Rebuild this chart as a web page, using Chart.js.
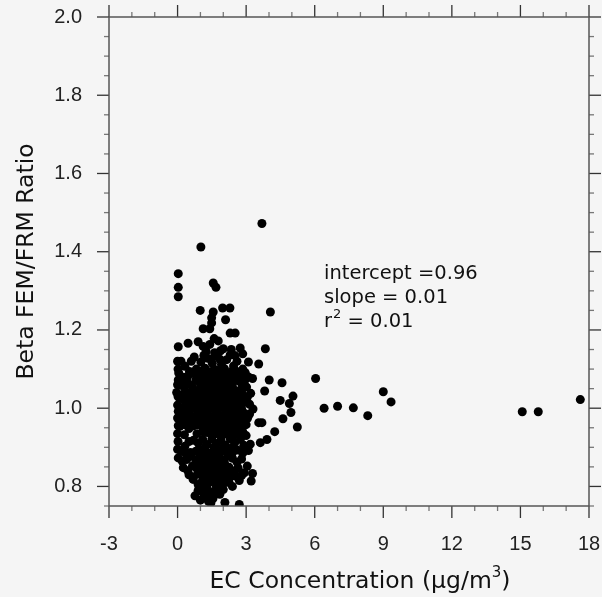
<!DOCTYPE html>
<html>
<head>
<meta charset="utf-8">
<script src="https://cdn.jsdelivr.net/npm/chart.js@4.4.0/dist/chart.umd.min.js"></script>
<style>
  html, body { margin: 0; padding: 0; background: #f5f5f5; }
  canvas { display: block; }
</style>
</head>
<body>
<canvas id="chart" width="602" height="597"></canvas>
<script>
// tick labels
const xTickLabels = [-3, 0, 3, 6, 9, 12, 15, 18];
const yTickLabels = [0.8, 1.0, 1.2, 1.4, 1.6, 1.8, 2.0];

// sparse points above the main cluster
const upperPoints = [
  [3.69, 1.472], [1.02, 1.412], [0.03, 1.344], [0.03, 1.309], [0.03, 1.285],
  [1.56, 1.32], [1.68, 1.309], [4.06, 1.246], [0.99, 1.25], [1.56, 1.246],
  [1.97, 1.256], [2.29, 1.256], [1.49, 1.231], [1.49, 1.218], [2.1, 1.226],
  [1.12, 1.203], [1.41, 1.203], [2.3, 1.192], [2.52, 1.192]
];

// dense cluster, EC 0-3
const clusterPoints = [
  [1.6, 1.178], [1.78, 1.172], [0.9, 1.17], [0.46, 1.166], [1.12, 1.158], [1.41, 1.163], [2.0, 1.152],
  [0.03, 1.157], [2.74, 1.154], [2.85, 1.139], [1.25, 1.145], [1.62, 1.142], [1.88, 1.147], [2.35, 1.15],
  [0.73, 1.131], [1.3, 1.128], [1.7, 1.133], [2.15, 1.124], [2.3, 1.136], [1.02, 1.118], [1.52, 1.115],
  [1.92, 1.112], [2.6, 1.12], [2.45, 1.108], [3.1, 1.118],
  [0.32, 1.107], [0.82, 1.1], [1.2, 1.102], [1.66, 1.098], [2.05, 1.101], [0.05, 1.09], [0.52, 1.094],
  [1.1, 1.088], [1.37, 1.093], [1.76, 1.086], [2.2, 1.09], [2.7, 1.084], [0.26, 1.079], [0.92, 1.078],
  [1.55, 1.081], [1.96, 1.077], [2.38, 1.08], [2.55, 1.095], [3.1, 1.08],
  [0.03, 1.072], [0.42, 1.068], [0.8, 1.073], [1.21, 1.066], [1.6, 1.071], [2.02, 1.069], [2.42, 1.072],
  [0.62, 1.058], [1.0, 1.06], [1.41, 1.057], [1.81, 1.062], [2.21, 1.058], [2.82, 1.06], [0.3, 1.052],
  [0.66, 1.048], [1.02, 1.05], [1.46, 1.046], [1.86, 1.052], [2.26, 1.048], [2.62, 1.044], [3.02, 1.054],
  [-0.04, 1.04], [0.46, 1.038], [0.86, 1.041], [1.26, 1.037], [1.66, 1.04], [2.06, 1.036], [2.46, 1.039],
  [0.1, 1.025], [0.55, 1.03], [0.92, 1.027], [1.32, 1.033], [1.71, 1.029], [2.1, 1.031], [2.5, 1.025],
  [2.87, 1.034], [0.32, 1.018], [0.72, 1.02], [1.12, 1.017], [1.52, 1.021], [1.92, 1.018], [2.32, 1.02],
  [2.66, 1.022], [3.2, 1.038],
  [0.0, 1.008], [0.36, 1.011], [0.76, 1.008], [1.16, 1.013], [1.56, 1.009], [1.96, 1.011], [2.36, 1.007],
  [2.76, 1.013], [3.15, 1.01], [0.2, 0.999], [0.6, 1.0], [1.0, 0.998], [1.4, 1.001], [1.8, 0.999],
  [2.2, 1.0], [2.6, 0.997], [0.03, 0.992], [0.5, 0.99], [0.9, 0.993], [1.3, 0.988], [1.7, 0.991],
  [2.1, 0.989], [2.5, 0.994], [2.92, 0.987], [3.3, 0.998],
  [0.3, 0.981], [0.7, 0.979], [1.1, 0.982], [1.5, 0.978], [1.9, 0.981], [2.3, 0.978], [2.7, 0.98],
  [0.2, 0.972], [0.66, 0.969], [1.06, 0.971], [1.46, 0.967], [1.86, 0.973], [2.26, 0.969], [2.66, 0.967],
  [3.06, 0.974], [0.46, 0.96], [0.86, 0.958], [1.26, 0.961], [1.66, 0.959], [2.06, 0.962], [2.46, 0.958],
  [3.0, 0.958],
  [0.1, 0.954], [0.5, 0.948], [1.25, 0.952], [1.65, 0.948], [2.05, 0.95], [2.45, 0.946], [2.74, 0.946],
  [1.1, 0.94], [1.5, 0.942], [1.9, 0.939], [2.3, 0.941], [2.7, 0.936], [0.3, 0.932], [1.52, 0.931],
  [1.92, 0.929], [2.32, 0.933], [3.0, 0.93],
  [0.32, 0.903], [0.7, 0.918], [0.9, 0.911], [1.3, 0.907], [1.7, 0.91], [2.1, 0.905], [2.5, 0.912],
  [1.1, 0.92], [1.5, 0.921], [1.9, 0.918], [2.3, 0.922], [2.75, 0.92], [0.15, 0.89], [0.56, 0.887],
  [1.0, 0.892], [1.4, 0.885], [1.8, 0.89], [2.2, 0.887], [2.62, 0.893], [3.1, 0.892],
  [0.03, 0.873], [0.4, 0.869], [0.8, 0.867], [1.2, 0.872], [1.6, 0.869], [2.0, 0.867], [2.4, 0.872],
  [2.8, 0.87], [0.6, 0.878], [1.0, 0.879], [1.4, 0.877], [1.8, 0.879], [2.2, 0.877], [0.25, 0.848],
  [0.65, 0.852], [1.05, 0.85], [1.45, 0.848], [1.85, 0.852], [2.25, 0.849], [2.65, 0.847], [1.25, 0.86],
  [1.65, 0.858], [2.05, 0.861], [0.85, 0.859], [3.05, 0.852],
  [0.5, 0.83], [0.9, 0.832], [1.3, 0.828], [1.7, 0.83], [2.1, 0.833], [2.5, 0.827], [2.92, 0.835],
  [1.1, 0.84], [1.5, 0.841], [1.9, 0.838], [2.3, 0.84], [0.68, 0.818], [1.05, 0.81], [1.45, 0.812],
  [1.85, 0.808], [2.25, 0.811], [2.7, 0.815], [1.25, 0.82], [1.65, 0.819], [2.05, 0.821],
  [0.9, 0.79], [1.3, 0.795], [1.62, 0.788], [2.0, 0.792], [1.12, 0.8], [1.8, 0.801], [0.76, 0.776],
  [1.22, 0.774], [1.55, 0.769], [1.6, 0.783], [1.46, 0.758], [2.07, 0.759], [2.7, 0.754]
];

// second layer of the cluster, filling its gaps
const clusterFill = [
  [0.0, 1.12], [0.02, 1.1], [0.0, 1.06], [0.02, 1.03], [0.0, 0.975], [0.03, 0.955], [0.0, 0.935],
  [0.02, 0.915], [0.0, 0.895],
  [0.15, 1.12], [0.6, 1.12], [1.15, 1.135], [1.45, 1.125], [1.85, 1.125], [2.5, 1.135], [0.7, 1.09],
  [0.95, 1.095], [1.55, 1.095], [1.9, 1.095], [2.4, 1.095], [2.85, 1.1], [0.15, 1.06], [0.45, 1.082],
  [1.1, 1.075], [1.4, 1.078], [1.8, 1.072], [2.2, 1.075], [2.65, 1.07], [2.95, 1.072], [0.8, 1.045],
  [1.2, 1.052], [1.6, 1.055], [2.0, 1.05], [2.4, 1.055], [2.8, 1.045], [0.25, 1.035], [0.65, 1.035],
  [1.05, 1.035], [1.45, 1.03], [1.85, 1.035], [2.25, 1.03], [2.65, 1.035], [3.05, 1.028], [0.5, 1.015],
  [0.9, 1.012], [1.3, 1.02], [1.7, 1.015], [2.1, 1.018], [2.5, 1.012], [2.95, 1.015], [0.4, 0.997],
  [0.8, 1.0], [1.2, 1.0], [1.6, 0.997], [2.0, 1.003], [2.4, 0.998], [2.8, 0.999], [3.15, 0.985],
  [0.1, 0.98], [0.5, 0.975], [0.9, 0.977], [1.3, 0.975], [1.7, 0.978], [2.1, 0.975], [2.5, 0.977],
  [2.9, 0.972], [0.3, 0.958], [0.7, 0.955], [1.05, 0.955], [1.45, 0.955], [1.85, 0.958], [2.25, 0.955],
  [2.65, 0.955], [0.85, 0.935], [1.3, 0.938], [1.7, 0.935], [2.1, 0.935], [2.5, 0.932], [2.85, 0.94],
  [0.5, 0.915], [1.2, 0.9], [1.6, 0.9], [2.0, 0.9], [2.4, 0.9], [2.9, 0.905], [0.35, 0.885],
  [0.8, 0.89], [1.2, 0.886], [1.6, 0.884], [2.0, 0.89], [2.4, 0.886], [2.85, 0.885], [0.2, 0.865],
  [1.0, 0.865], [1.4, 0.862], [1.8, 0.865], [2.6, 0.862], [0.45, 0.84], [0.85, 0.845], [1.3, 0.842],
  [1.7, 0.845], [2.1, 0.845], [2.5, 0.84], [2.8, 0.828], [0.7, 0.825], [1.1, 0.825], [1.5, 0.828],
  [1.9, 0.825], [2.3, 0.825], [0.9, 0.805], [1.3, 0.808], [1.7, 0.8], [2.1, 0.81], [2.4, 0.8],
  [1.1, 0.785], [1.4, 0.785], [1.85, 0.78], [1.0, 0.765], [1.35, 0.762]
];

// fringe to the right of the cluster, EC 3-6
const fringePoints = [
  [3.84, 1.152], [3.55, 1.113], [3.28, 1.076], [2.96, 1.091], [4.01, 1.072], [4.57, 1.065], [6.04, 1.076],
  [3.81, 1.044], [5.05, 1.031], [4.49, 1.02], [4.89, 1.012], [4.96, 0.989], [4.61, 0.973], [3.55, 0.963],
  [3.69, 0.963], [5.24, 0.952], [4.25, 0.94], [3.91, 0.92], [3.62, 0.912], [3.18, 0.908], [3.28, 0.833],
  [3.22, 0.814]
];

// isolated high-EC points
const farPoints = [
  [6.41, 1.0], [7.0, 1.005], [7.69, 1.001], [8.32, 0.981], [9.0, 1.042], [9.34, 1.016],
  [15.08, 0.991], [15.78, 0.991], [17.62, 1.022]
];

const allPoints = [...upperPoints, ...clusterPoints, ...clusterFill, ...fringePoints, ...farPoints];

// frame, tick marks and text drawn on top of the chart
const decorations = {
  id: 'decorations',
  afterDraw(chart) {
    const { ctx, chartArea: a, scales: { x, y } } = chart;
    ctx.save();

    function line(x1, y1, x2, y2, color, w) {
      ctx.beginPath();
      ctx.strokeStyle = color;
      ctx.lineWidth = w;
      ctx.moveTo(x1, y1);
      ctx.lineTo(x2, y2);
      ctx.stroke();
    }

    for (let v = -3; v <= 18; v++) {
      const px = x.getPixelForValue(v);
      const major = xTickLabels.includes(v);
      const len = major ? 12 : 5;
      const col = major ? '#333' : '#777';
      line(px, a.bottom, px, a.bottom + len, col, 1.3);
      line(px, a.top, px, a.top - len, col, 1.3);
    }
    for (let i = 0; i <= 25; i++) {
      const v = 0.75 + i * 0.05;
      const py = y.getPixelForValue(v);
      const major = i % 4 === 1;
      const len = major ? 12 : 5;
      const col = major ? '#333' : '#777';
      line(a.left, py, a.left - len, py, col, 1.3);
      line(a.right, py, a.right + len, py, col, 1.3);
    }

    ctx.strokeStyle = '#555';
    ctx.lineWidth = 1.5;
    ctx.strokeRect(a.left, a.top, a.right - a.left, a.bottom - a.top);

    // regression stats
    ctx.fillStyle = '#111';
    ctx.textAlign = 'left';
    ctx.textBaseline = 'alphabetic';
    ctx.font = '19.5px "DejaVu Sans"';
    ctx.fillText('intercept =0.96', 324, 279);
    ctx.fillText('slope = 0.01', 324, 303);
    ctx.fillText('r', 324, 327);
    let rx = 324 + ctx.measureText('r').width;
    ctx.font = '13px "DejaVu Sans"';
    ctx.fillText('2', rx + 1, 318);
    rx += ctx.measureText('2').width + 1;
    ctx.font = '19.5px "DejaVu Sans"';
    ctx.fillText(' = 0.01', rx, 327);

    // x axis title
    const main = 'EC Concentration (\u00b5g/m';
    ctx.font = '23.5px "DejaVu Sans"';
    const wMain = ctx.measureText(main).width;
    const wTail = ctx.measureText(')').width;
    ctx.font = '15px "DejaVu Sans"';
    const wSup = ctx.measureText('3').width;
    let tx = 360 - (wMain + wSup + wTail) / 2;
    ctx.font = '23.5px "DejaVu Sans"';
    ctx.fillText(main, tx, 588);
    tx += wMain;
    ctx.font = '15px "DejaVu Sans"';
    ctx.fillText('3', tx, 577);
    tx += wSup;
    ctx.font = '23.5px "DejaVu Sans"';
    ctx.fillText(')', tx, 588);

    // y axis title
    ctx.translate(33, (a.top + a.bottom) / 2);
    ctx.rotate(-Math.PI / 2);
    ctx.textAlign = 'center';
    ctx.fillText('Beta FEM/FRM Ratio', 0, 0);

    ctx.restore();
  }
};

// keep the plot area fixed: no extra padding for overhanging tick labels
function fixPadding(s) {
  s.paddingTop = 0;
  s.paddingBottom = 0;
  s.paddingLeft = 0;
  s.paddingRight = 0;
}

const ctx = document.getElementById('chart').getContext('2d');
new Chart(ctx, {
  type: 'scatter',
  data: {
    datasets: [{
      data: allPoints.map(p => ({ x: p[0], y: p[1] })),
      pointRadius: 4.5,
      pointBackgroundColor: '#000',
      pointBorderWidth: 0
    }]
  },
  options: {
    responsive: false,
    animation: false,
    layout: { padding: { top: 17, right: 13, left: 0, bottom: 0 } },
    plugins: {
      legend: { display: false },
      tooltip: { enabled: false }
    },
    scales: {
      x: {
        type: 'linear',
        position: 'bottom',
        min: -3,
        max: 18,
        afterBuildTicks: s => { s.ticks = xTickLabels.map(v => ({ value: v })); },
        afterFit: s => { s.height = 91; fixPadding(s); },
        ticks: {
          autoSkip: false,
          maxRotation: 0,
          padding: 26,
          color: '#222',
          font: { family: 'Liberation Sans', size: 20 }
        },
        grid: { display: false, drawTicks: false },
        border: { display: false }
      },
      y: {
        type: 'linear',
        position: 'left',
        min: 0.75,
        max: 2.0,
        afterBuildTicks: s => { s.ticks = yTickLabels.map(v => ({ value: v })); },
        afterFit: s => { s.width = 109; fixPadding(s); },
        ticks: {
          padding: 27,
          color: '#222',
          font: { family: 'Liberation Sans', size: 20 },
          callback: v => v.toFixed(1)
        },
        grid: { display: false, drawTicks: false },
        border: { display: false }
      }
    }
  },
  plugins: [decorations]
});
</script>
</body>
</html>
